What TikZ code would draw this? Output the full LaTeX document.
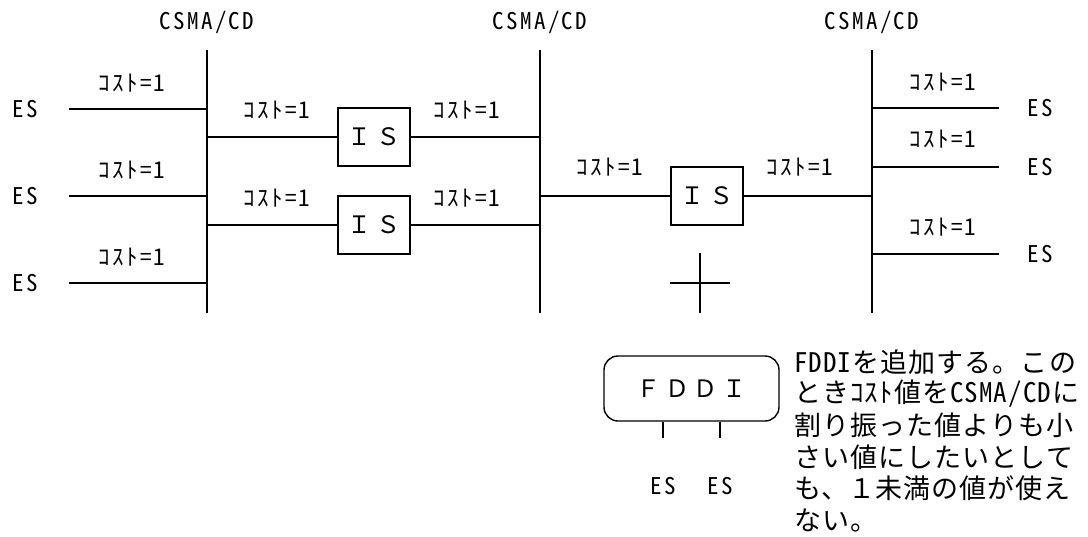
\documentclass[tikz,border=0pt]{standalone}
\usepackage{fontspec}
\usepackage{tikz}
\usetikzlibrary{positioning}
\newfontfamily\lblfont[RawFeature=+hwid,LetterSpace=10]{Noto Sans CJK JP}
\newfontfamily\widefont[LetterSpace=20]{Noto Sans CJK JP}
\newfontfamily\notefont[RawFeature=+hwid,LetterSpace=4]{Noto Sans CJK JP}
\newfontfamily\notewide[LetterSpace=4]{Noto Sans CJK JP}
\tikzset{
  wire/.style    ={line width=2pt},
  lbl/.style     ={inner sep=0pt,font=\lblfont\fontsize{23}{27}\selectfont},
  isbox/.style   ={draw,line width=1.4pt,minimum width=72pt,minimum height=58pt,inner sep=0pt,font=\widefont\fontsize{24}{28}\selectfont},
  ringbox/.style ={draw,line width=1.4pt,rounded corners=14pt,minimum width=175pt,minimum height=65pt,inner sep=0pt,font=\widefont\fontsize{24}{28}\selectfont},
  note/.style    ={inner sep=0pt,anchor=west,font=\notefont\fontsize{27}{31}\selectfont},
}
\begin{document}
\begin{tikzpicture}[x=1pt,y=-1pt]
  \useasboundingbox (0,0) rectangle (1088,536);
  % CSMA/CD buses
  \foreach \n/\x in {1/207,2/540,3/872}{
     \node[lbl] (csma\n) at (\x,22){CSMA/CD};
     \coordinate (top\n) at (\x,50);
     \coordinate (bot\n) at (\x,313);
     \draw[wire] (top\n)--(bot\n);
  }
  % end systems, left bus
  \foreach \i/\y in {1/109,2/196,3/283}{
     \node[lbl] (esL\i) at (25,\y){ES};
     \coordinate (endL\i) at (69,\y);
     \coordinate (tapL\i) at (207,\y);
     \draw[wire] (endL\i)--(tapL\i);
     \node[lbl] (costL\i) at (132,{\y-26}){ｺｽﾄ=1};
  }
  % end systems, right bus
  \foreach \i/\y/\c in {1/108/82,2/167/139,3/254/227}{
     \coordinate (tapR\i) at (872,\y);
     \coordinate (endR\i) at (999,\y);
     \draw[wire] (tapR\i)--(endR\i);
     \node[lbl] (esR\i) at (1040,\y){ES};
     \node[lbl] (costR\i) at (943,\c){ｺｽﾄ=1};
  }
  % IS between bus 1 and bus 2
  \foreach \i/\y in {1/137,2/225}{
     \node[isbox] (is\i) at (374,\y){ＩＳ};
     \coordinate (a\i) at (207,\y);
     \coordinate (b\i) at (540,\y);
     \draw[wire] (a\i)--(is\i)--(b\i);
     \node[lbl] (costA\i) at (277,{\y-27}){ｺｽﾄ=1};
     \node[lbl] (costB\i) at (467,{\y-27}){ｺｽﾄ=1};
  }
  % IS between bus 2 and bus 3
  \node[isbox] (is3) at (707,196){ＩＳ};
  \coordinate (a3) at (540,196);
  \coordinate (b3) at (872,196);
  \draw[wire] (a3)--(is3)--(b3);
  \node[lbl] (costA3) at (610,167){ｺｽﾄ=1};
  \node[lbl] (costB3) at (800,167){ｺｽﾄ=1};
  % cross mark
  \coordinate (crT) at (700,253); \coordinate (crB) at (700,313);
  \coordinate (crL) at (670,283); \coordinate (crR) at (730,283);
  \draw[wire] (crT)--(crB) (crL)--(crR);
  % FDDI ring
  \node[ringbox] (fddi) at (691.5,388.5){ＦＤＤＩ};
  \foreach \i/\x in {1/663,2/720}{
     \coordinate (drop\i) at (\x,438);
     \draw[wire] (fddi.south -| drop\i)--(drop\i);
     \node[lbl,below=39pt of drop\i] (esF\i){ES};
  }
  \foreach \t [count=\i] in {FDDIを追加する。この,ときｺｽﾄ値をCSMA/CDに,割り振った値よりも小,さい値にしたいとして,も、{\notewide １}未満の値が使え,ない。}{
     \node[note] (note\i) at (794,{362+31.6*(\i-1)}){\t};
  }
\end{tikzpicture}
\end{document}
